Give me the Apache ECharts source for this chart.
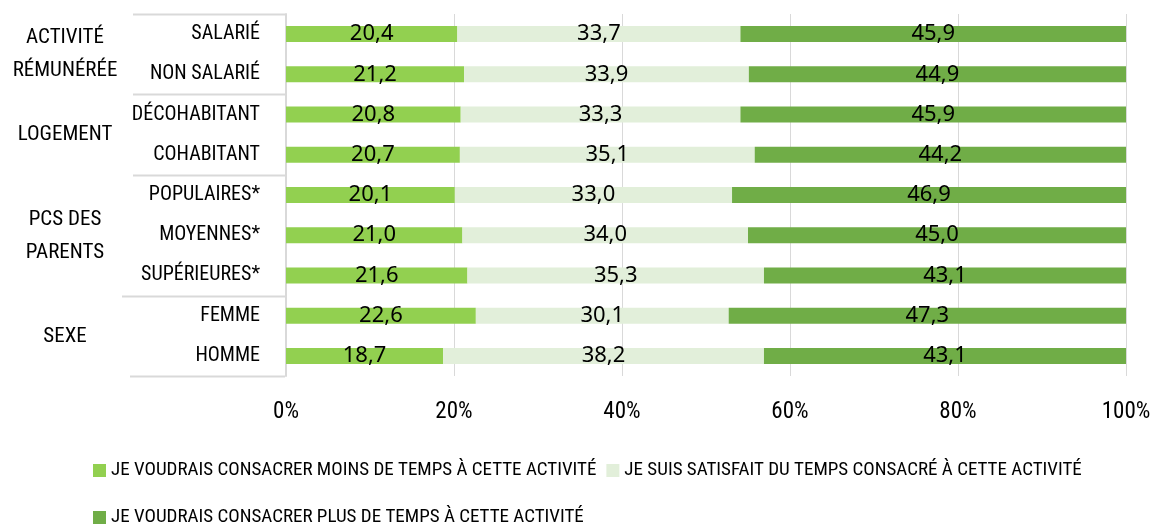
<!DOCTYPE html>
<html>
<head>
<meta charset="utf-8">
<script src="https://cdn.jsdelivr.net/npm/echarts@6/dist/echarts.min.js"></script>
<style>
  html, body { margin: 0; padding: 0; background: #fff; }
  #main { width: 1159px; height: 524px; }
</style>
</head>
<body>
<div id="main"></div>
<script>
// catégories (de haut en bas)
var categories = ['SALARIÉ', 'NON SALARIÉ', 'DÉCOHABITANT', 'COHABITANT', 'POPULAIRES*', 'MOYENNES*', 'SUPÉRIEURES*', 'FEMME', 'HOMME']
// groupes : libellé + nombre de lignes
var groups = ['ACTIVITÉ\nRÉMUNÉRÉE', 'LOGEMENT', 'PCS DES\nPARENTS', 'SEXE']
var groupSizes = [2, 2, 3, 2]

var seriesNames = [
  'JE VOUDRAIS CONSACRER MOINS DE TEMPS À CETTE ACTIVITÉ',
  'JE SUIS SATISFAIT DU TEMPS CONSACRÉ À CETTE ACTIVITÉ',
  'JE VOUDRAIS CONSACRER PLUS DE TEMPS À CETTE ACTIVITÉ'
]
var moins = [20.4, 21.2, 20.8, 20.7, 20.1, 21.0, 21.6, 22.6, 18.7]
var satisfait = [33.7, 33.9, 33.3, 35.1, 33.0, 34.0, 35.3, 30.1, 38.2]
var plus = [45.9, 44.9, 45.9, 44.2, 46.9, 45.0, 43.1, 47.3, 43.1]
var colors = ['#92d050', '#e2efda', '#70ad47']

var condensed = "'Roboto Condensed', 'DejaVu Sans Condensed', sans-serif"
var gridLine = '#d9d9d9'

var myChart = echarts.init(document.getElementById('main'))

function makeSeries(name, data, color){
  return {
    name: name,
    type: 'bar',
    stack: 'total',
    barWidth: 16,
    data: data,
    itemStyle: { color: color },
    label: {
      show: true,
      position: 'inside',
      color: '#000',
      fontFamily: "'Noto Sans', sans-serif",
      fontSize: 22,
      formatter: function(p){ return p.value.toFixed(1).replace('.', ',') }
    }
  }
}

myChart.setOption({
  animation: false,
  grid: { left: 286, right: 33, top: 14, bottom: 148 },
  legend: [{
    data: [seriesNames[0], seriesNames[1]],
    left: 88, top: 456,
    icon: 'rect', itemWidth: 13, itemHeight: 13, itemGap: 10,
    textStyle: { fontFamily: condensed, fontSize: 19, color: '#000' }
  }, {
    data: [seriesNames[2]],
    left: 88, top: 503,
    icon: 'rect', itemWidth: 13, itemHeight: 13,
    textStyle: { fontFamily: condensed, fontSize: 19, color: '#000' }
  }],
  xAxis: {
    type: 'value',
    min: 0, max: 100, interval: 20,
    axisLine: { show: false },
    axisTick: { show: false },
    splitLine: { lineStyle: { color: gridLine, width: 1 } },
    axisLabel: {
      margin: 25,
      fontFamily: condensed, fontSize: 23, color: '#000',
      formatter: '{value}%'
    }
  },
  yAxis: {
    type: 'category',
    inverse: true,
    data: categories,
    axisLine: { lineStyle: { color: gridLine, width: 2 } },
    axisTick: { show: false },
    axisLabel: {
      margin: 26,
      fontFamily: condensed, fontSize: 20, color: '#000'
    }
  },
  series: [
    makeSeries(seriesNames[0], moins, colors[0]),
    makeSeries(seriesNames[1], satisfait, colors[1]),
    makeSeries(seriesNames[2], plus, colors[2])
  ]
})

// séparateurs des groupes et libellés de groupe
var y0 = myChart.convertToPixel({ yAxisIndex: 0 }, 0)
var y1 = myChart.convertToPixel({ yAxisIndex: 0 }, 1)
var band = y1 - y0
var axisX = 285
var lineStarts = [133, 133, 133, 122, 130]
var elements = []
var idx = 0
for (var g = 0; g <= groups.length; g++) {
  var sepY = Math.round(y0 - band / 2 + idx * band) + 0.5
  elements.push({
    type: 'line',
    shape: { x1: lineStarts[g], y1: sepY, x2: axisX, y2: sepY },
    style: { stroke: gridLine, lineWidth: 2 }
  })
  if (g < groups.length) {
    var mid = sepY + groupSizes[g] * band / 2
    elements.push({
      type: 'text',
      x: 65, y: mid,
      style: {
        text: groups[g],
        fontFamily: condensed, fontSize: 21, fill: '#000',
        align: 'center', verticalAlign: 'middle', lineHeight: 33
      }
    })
    idx += groupSizes[g]
  }
}
myChart.setOption({ graphic: elements })
</script>
</body>
</html>
